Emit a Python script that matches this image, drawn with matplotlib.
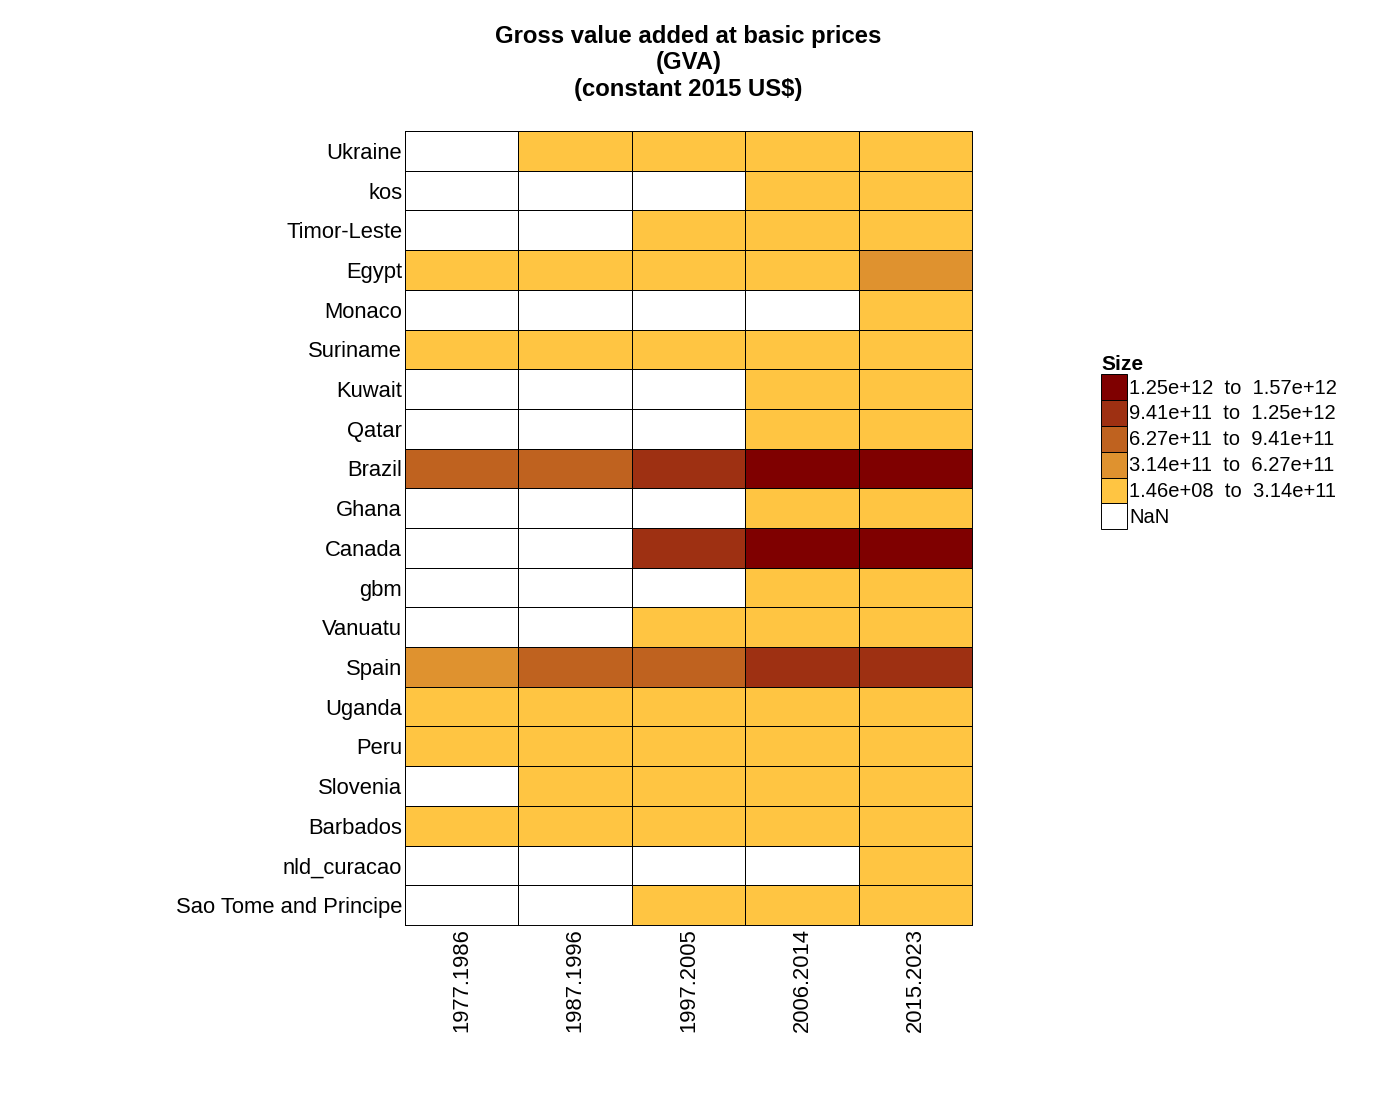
import numpy as np
import matplotlib
matplotlib.use("Agg")
import matplotlib.pyplot as plt
from matplotlib.colors import ListedColormap, BoundaryNorm
from matplotlib.patches import Patch

plt.rcParams['font.family'] = ['Liberation Sans', 'DejaVu Sans']

# data (constant 2015 US$, nan = no data)
periods = ["1977.1986", "1987.1996", "1997.2005", "2006.2014", "2015.2023"]
countries = ["Ukraine", "kos", "Timor-Leste", "Egypt", "Monaco", "Suriname",
             "Kuwait", "Qatar", "Brazil", "Ghana", "Canada", "gbm", "Vanuatu",
             "Spain", "Uganda", "Peru", "Slovenia", "Barbados", "nld_curacao",
             "Sao Tome and Principe"]
nan = np.nan
gva = [
    [nan, 1.2e11, 0.9e11, 1.1e11, 1.0e11],      # Ukraine
    [nan, nan, nan, 6e9, 8e9],                  # kos
    [nan, nan, 1.5e9, 2e9, 2e9],                # Timor-Leste
    [1.2e11, 1.6e11, 2.2e11, 2.8e11, 3.8e11],   # Egypt
    [nan, nan, nan, nan, 7e9],                  # Monaco
    [2e9, 2e9, 2.3e9, 3e9, 3.5e9],              # Suriname
    [nan, nan, nan, 1.1e11, 1.2e11],            # Kuwait
    [nan, nan, nan, 1.4e11, 1.9e11],            # Qatar
    [7e11, 8e11, 1.05e12, 1.4e12, 1.57e12],     # Brazil
    [nan, nan, nan, 4e10, 6e10],                # Ghana
    [nan, nan, 1.0e12, 1.3e12, 1.5e12],         # Canada
    [nan, nan, nan, 2e9, 2.5e9],                # gbm
    [nan, nan, 5e8, 7e8, 8e8],                  # Vanuatu
    [5.5e11, 6.6e11, 8.5e11, 1.1e12, 1.2e12],   # Spain
    [6e9, 8e9, 1.2e10, 2.3e10, 3.3e10],         # Uganda
    [8e10, 7e10, 9e10, 1.4e11, 1.9e11],         # Peru
    [nan, 3e10, 3.3e10, 4.2e10, 4.6e10],        # Slovenia
    [3.5e9, 4e9, 4.3e9, 4.5e9, 4.4e9],          # Barbados
    [nan, nan, nan, nan, 2.8e9],                # nld_curacao
    [nan, nan, 1.46e8, 3e8, 4e8],               # Sao Tome and Principe
]
breaks = [1.46e8, 3.14e11, 6.27e11, 9.41e11, 1.25e12, 1.57e12]
colors = ["#FFC542", "#DF922F", "#BF621F", "#9E3012", "#7F0000"]

fig = plt.figure(figsize=(14, 11), dpi=100)
ax = fig.add_axes([0.2893, 0.1591, 0.405, 0.7218])

cmap = ListedColormap(colors)
cmap.set_bad("white")
norm = BoundaryNorm(breaks, cmap.N, clip=True)
z = np.ma.masked_invalid(np.array(gva))
ax.pcolormesh(z, cmap=cmap, norm=norm, edgecolors="black", linewidth=0.6)

ax.set_xlim(0, len(periods))
ax.set_ylim(len(countries), 0)
ax.set_xticks(np.arange(len(periods)) + 0.5)
ax.set_xticklabels(periods, rotation=90, fontsize=15.8)
ax.set_yticks(np.arange(len(countries)) + 0.5)
ax.set_yticklabels(countries, fontsize=15.8, va="center_baseline")
ax.tick_params(length=0, pad=2)
for s in ax.spines.values():
    s.set_linewidth(0.7)

fig.text(0.4918, 1 - 63 / 1100, "Gross value added at basic prices\n(GVA)\n(constant 2015 US$)",
         ha="center", va="center", fontsize=17.2, fontweight="bold", linespacing=1.2)

handles = []
labels = []
for i in range(len(colors) - 1, -1, -1):
    handles.append(Patch(facecolor=colors[i], edgecolor="black", linewidth=0.7))
    labels.append(f"{breaks[i]:.2e}  to  {breaks[i + 1]:.2e}")
handles.append(Patch(facecolor="white", edgecolor="black", linewidth=0.7))
labels.append("NaN")
leg = fig.legend(handles, labels, loc="upper left", bbox_to_anchor=(1101 / 1400, 1 - 355 / 1100),
                 frameon=False, fontsize=14.5, title="Size", alignment="left",
                 title_fontproperties={"weight": "bold", "size": 15},
                 handlelength=1.3, handleheight=1.6, labelspacing=0, handletextpad=0.1,
                 borderpad=0, borderaxespad=0)

fig.savefig("out.png", dpi=100)
